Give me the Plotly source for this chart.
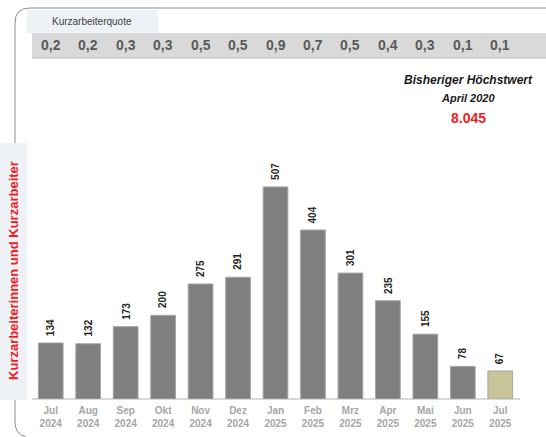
import plotly.graph_objects as go

months = ["Jul", "Aug", "Sep", "Okt", "Nov", "Dez", "Jan", "Feb", "Mrz", "Apr", "Mai", "Jun", "Jul"]
years = ["2024"] * 6 + ["2025"] * 7
values = [134, 132, 173, 200, 275, 291, 507, 404, 301, 235, 155, 78, 67]
quote = ["0,2", "0,2", "0,3", "0,3", "0,5", "0,5", "0,9", "0,7", "0,5", "0,4", "0,3", "0,1", "0,1"]
tick_labels = [f"{m}<br>{y}" for m, y in zip(months, years)]

W, H = 546, 437
L, R, T, B = 32, 27, 148, 38
PW, PH = W - L - R, H - T - B


def px(x):
    return (x - L) / PW


def py(y):
    return (H - B - y) / PH


colors = ["#7f7f7f"] * (len(values) - 1) + ["#c9c39a"]
xs = list(range(len(values)))

fig = go.Figure()
fig.add_trace(go.Bar(
    x=xs, y=values,
    marker=dict(color=colors, line=dict(color="#a6a6a6", width=1)),
    width=0.66,
    hoverinfo="skip",
))

shapes = []
# outer rounded frame
shapes.append(dict(
    type="path", xref="paper", yref="paper",
    path=(f"M {px(546)},{py(8)} L {px(30)},{py(8)} Q {px(15)},{py(8)} {px(15)},{py(23)} "
          f"L {px(15)},{py(422)} Q {px(15)},{py(434)} {px(26)},{py(437)}"),
    line=dict(color="#8c8c8c", width=1),
))
# tab
shapes.append(dict(type="rect", xref="paper", yref="paper",
                   x0=px(27), x1=px(158), y0=py(33), y1=py(10),
                   fillcolor="#eef2f6", line=dict(width=0), layer="below"))
# quote band
shapes.append(dict(type="rect", xref="paper", yref="paper",
                   x0=px(32), x1=px(546), y0=py(58), y1=py(33),
                   fillcolor="#d9d9d9", line=dict(width=0), layer="below"))
shapes.append(dict(type="line", xref="paper", yref="paper",
                   x0=px(32), x1=px(546), y0=py(58), y1=py(58),
                   line=dict(color="#bfbfbf", width=1), layer="below"))
# y-title box
shapes.append(dict(type="rect", xref="paper", yref="paper",
                   x0=px(0), x1=px(27), y0=py(400), y1=py(143),
                   fillcolor="#eef2f6", line=dict(width=0), layer="above"))
# baseline
shapes.append(dict(type="line", xref="paper", yref="paper",
                   x0=px(32), x1=px(520), y0=0, y1=0,
                   line=dict(color="#d9d9d9", width=2), layer="below"))

annotations = []
# bar value labels
for i, v in enumerate(values):
    annotations.append(dict(x=i, y=v, xref="x", yref="y", text=f"<b>{v}</b>", showarrow=False,
                            textangle=-90, xanchor="center", yanchor="bottom", yshift=5,
                            font=dict(family="Liberation Sans", size=10, color="#262626")))
annotations.append(dict(x=px(92), y=py(21), xref="paper", yref="paper",
                        xanchor="center", yanchor="middle",
                        text="Kurzarbeiterquote", showarrow=False,
                        font=dict(family="Liberation Sans", size=10, color="#404040")))
for i, q in enumerate(quote):
    annotations.append(dict(x=i, y=py(45.5), xref="x", yref="paper", text=q, showarrow=False,
                            xanchor="center", yanchor="middle",
                            font=dict(family="Liberation Sans", size=14, color="#595959", weight="bold")))
annotations.append(dict(x=px(13), y=py(271), xref="paper", yref="paper",
                        xanchor="center", yanchor="middle",
                        text="Kurzarbeiterinnen und Kurzarbeiter", textangle=-90, showarrow=False,
                        font=dict(family="Liberation Sans", size=13, color="#ee1c25", weight="bold")))
annotations.append(dict(x=px(468), y=py(80), xref="paper", yref="paper",
                        xanchor="center", yanchor="middle",
                        text="<b><i>Bisheriger Höchstwert</i></b>", showarrow=False,
                        font=dict(family="Liberation Sans", size=12, color="#1a1a1a")))
annotations.append(dict(x=px(468), y=py(98), xref="paper", yref="paper",
                        xanchor="center", yanchor="middle",
                        text="<b><i>April 2020</i></b>", showarrow=False,
                        font=dict(family="Liberation Sans", size=11, color="#1a1a1a")))
annotations.append(dict(x=px(468), y=py(118), xref="paper", yref="paper",
                        xanchor="center", yanchor="middle",
                        text="<b>8.045</b>", showarrow=False,
                        font=dict(family="Liberation Sans", size=14, color="#ee1c25")))

fig.update_layout(
    width=W, height=H,
    margin=dict(l=L, r=R, t=T, b=B, pad=0, autoexpand=False),
    paper_bgcolor="white", plot_bgcolor="white",
    showlegend=False,
    shapes=shapes, annotations=annotations,
    xaxis=dict(tickmode="array", tickvals=xs, ticktext=tick_labels,
               range=[-0.5, len(values) - 0.5], showgrid=False, zeroline=False,
               showline=False, ticks="", fixedrange=True, ticklabelstandoff=4,
               tickfont=dict(family="Liberation Sans", size=10, color="#a6a6a6", weight="bold")),
    yaxis=dict(range=[0, 600], visible=False, fixedrange=True),
)

fig.write_html(
    "out.html",
    config={"displayModeBar": False},
    post_script="document.body.style.margin='0';document.body.style.padding='0';",
)
